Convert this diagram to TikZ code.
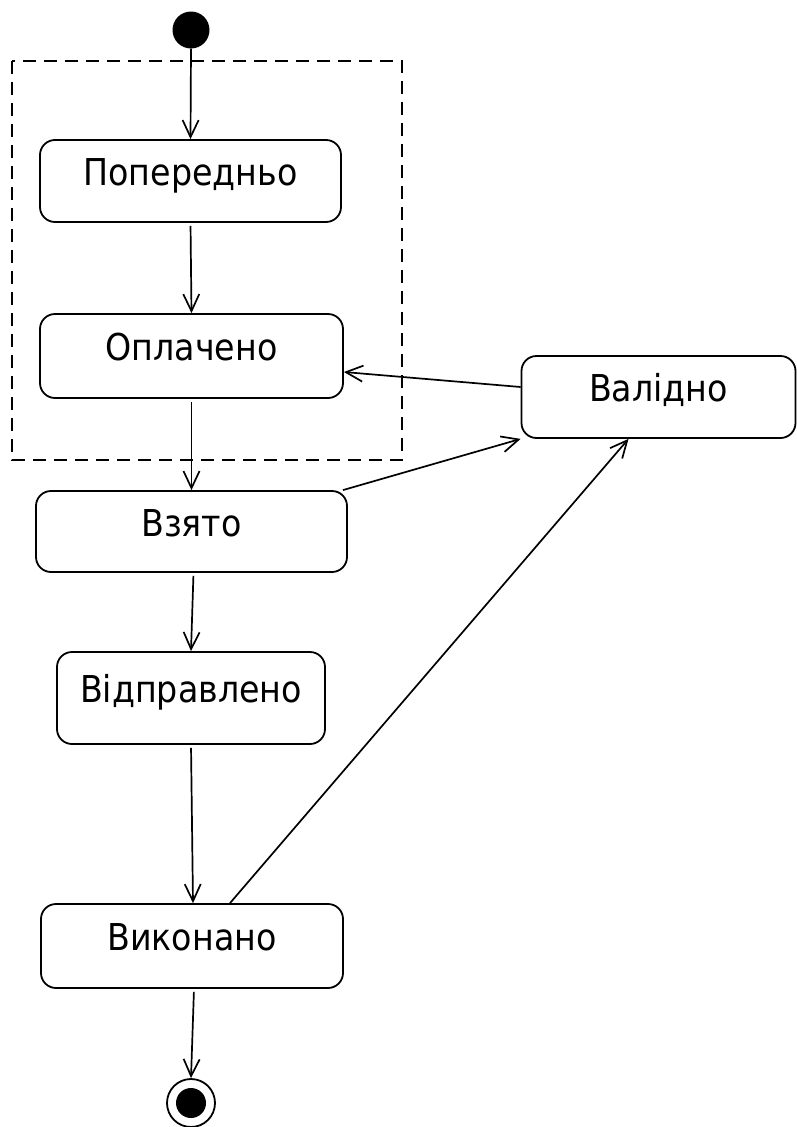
\documentclass[tikz,border=0pt]{standalone}
\usepackage{fontspec}
\setmainfont{DejaVu Sans Condensed}
\usetikzlibrary{arrows.meta,calc}
\begin{document}
\begin{tikzpicture}[x=1pt,y=-1pt,
  every node/.style={font=\fontsize{37}{40}\selectfont},
  state/.style={draw,line width=1.8pt,rounded corners=15pt,inner sep=0pt,
    text height=30pt,text depth=21pt},
  tr/.style={line width=1.7pt,-{Straight Barb[length=17pt,width=16pt,line width=1.7pt]}},
  gap/.style={shorten <=3pt}
]
\useasboundingbox (0,0) rectangle (797,1127);
% composite (dashed) region
\draw[line width=2.2pt,dash pattern=on 13pt off 8pt] (12,61) rectangle (402,460);

\node[circle,fill=black,minimum size=37pt,inner sep=0pt] (init) at (191,30) {};

\node[state,minimum width=301pt,minimum height=82pt] (pop) at (190.5,181) {Попередньо};
\node[state,minimum width=303pt,minimum height=84pt] (opl) at (191.5,356) {Оплачено};
\node[state,minimum width=311pt,minimum height=81pt] (vzy) at (191.5,531.5) {Взято};
\node[state,minimum width=274pt,minimum height=82pt] (val) at (658.5,397) {Валідно};
\node[state,minimum width=268pt,minimum height=92pt] (vid) at (191,698) {Відправлено};
\node[state,minimum width=302pt,minimum height=84pt] (vyk) at (192,946) {Виконано};

\node[circle,draw,line width=1.8pt,minimum size=48pt,inner sep=0pt] (fin) at (191,1103) {};
\fill (fin.center) circle (15pt);

\draw[tr] (init.south) -- (pop.north);
\draw[tr,gap] (pop.south) -- (opl.north);
\draw[tr,gap] (opl.south) -- (vzy.north);
\draw[tr,gap] ([xshift=2pt]vzy.south) -- (vid.north);
\draw[tr,gap] (vid.south) -- ([xshift=1pt]vyk.north);
\draw[tr,gap] ([xshift=2pt]vyk.south) -- (fin.north);

\draw[tr] ([yshift=10pt]val.west) -- ([yshift=-16pt]opl.east);
\draw[tr] ([xshift=-5pt]vzy.north east) -- (val.south west);
\draw[tr] ([xshift=38pt]vyk.north) -- ([xshift=-30pt]val.south);
\end{tikzpicture}
\end{document}
